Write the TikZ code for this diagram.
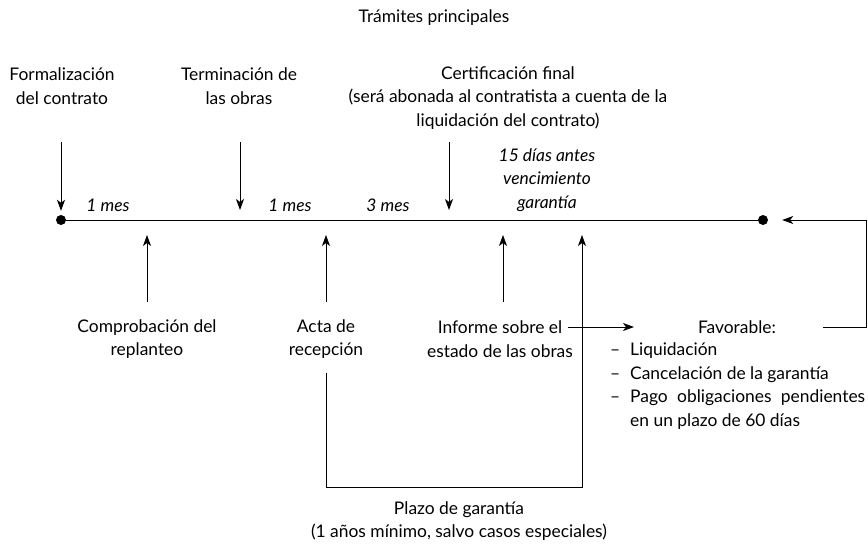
\documentclass[tikz,border=0pt]{standalone}
\usepackage{fontspec}
\setmainfont{Lato}
\usetikzlibrary{arrows.meta, positioning, calc}

\begin{document}
\begin{tikzpicture}[x=1pt, y=-1pt,
  font=\fontsize{17.4}{23.5}\selectfont,
  every node/.style={inner sep=0pt, align=center},
  tramo/.style={font=\fontsize{17.4}{23.5}\selectfont\itshape},
  flecha/.style={-{Stealth[length=11pt, width=8pt, inset=3pt]}, line width=0.8pt},
  linea/.style={line width=0.8pt},
  punto/.style={circle, fill, minimum size=10pt, inner sep=0pt}]

\useasboundingbox (0,0) rectangle (868,547);

% Titulo
\node (titulo) at (434,18) {Trámites principales};

% Linea de tiempo
\node[punto] (inicio) at (61,220) {};
\node[punto] (fin) at (763,220) {};
\draw[linea] (inicio) -- (fin);

% Tramites de arriba
\node (formal) at (62,86) {Formalización\\del contrato};
\node (termin) at (239,86) {Terminación de\\las obras};
\node (certif) at (508,98) {Certificación final\\(será abonada al contratista a cuenta de la\\liquidación del contrato)};

\coordinate (c-formal) at (61,142);
\coordinate (c-termin) at (240,142);
\coordinate (c-certif) at (449,142);
\coordinate (t-termin) at (240,220);
\coordinate (t-certif) at (449,220);
\draw[flecha, shorten >=4pt] (c-formal) -- (inicio);
\draw[flecha, shorten >=10pt] (c-termin) -- (t-termin);
\draw[flecha, shorten >=10pt] (c-certif) -- (t-certif);

% Plazos
\node[tramo] (mes1) at (108,205) {1 mes};
\node[tramo] (mes2) at (290,205) {1 mes};
\node[tramo] (mes3) at (388,205) {3 mes};
\node[tramo] (quince) at (547,180) {15 días antes\\vencimiento\\garantía};

% Tramites de abajo
\node (comprob) at (147,339) {Comprobación del\\replanteo};
\node (acta) at (326,339) {Acta de\\recepción};
\node (informe) at (500,339) {Informe sobre el\\estado de las obras};

\coordinate (b-comprob) at (147,302);
\coordinate (b-acta) at (326,302);
\coordinate (b-informe) at (503,302);
\coordinate (t-comprob) at (147,220);
\coordinate (t-acta) at (326,220);
\coordinate (t-informe) at (503,220);
\draw[flecha, shorten >=15pt] (b-comprob) -- (t-comprob);
\draw[flecha, shorten >=15pt] (b-acta) -- (t-acta);
\draw[flecha, shorten >=15pt] (b-informe) -- (t-informe);

% Plazo de garantia
\coordinate (g-ini) at (326,373);
\coordinate (g-esq) at (582,487);
\coordinate (g-fin) at (582,220);
\draw[flecha, shorten >=15pt] (g-ini) |- (g-esq) -- (g-fin);
\node (plazo) at (459,521) {Plazo de garantía\\(1 años mínimo, salvo casos especiales)};

% Resultado favorable
\node (favor) at (737,327) {Favorable:};
\node[anchor=west, align=left] (lista) at (610,386)
  {\makebox[20pt][l]{--}Liquidación\\
   \makebox[20pt][l]{--}Cancelación de la garantía\\
   \makebox[20pt][l]{--}\makebox[235pt][s]{Pago obligaciones pendientes}\\
   \hspace*{20pt}en un plazo de 60 días};

\coordinate (i-der) at (568,327);
\coordinate (f-izq) at (634,327);
\draw[flecha] (i-der) -- (f-izq);

\coordinate (r-ini) at (823,327);
\coordinate (r-esq) at (866,220);
\draw[flecha, shorten >=14pt] (r-ini) -| (r-esq) -- (fin);
\end{tikzpicture}
\end{document}
